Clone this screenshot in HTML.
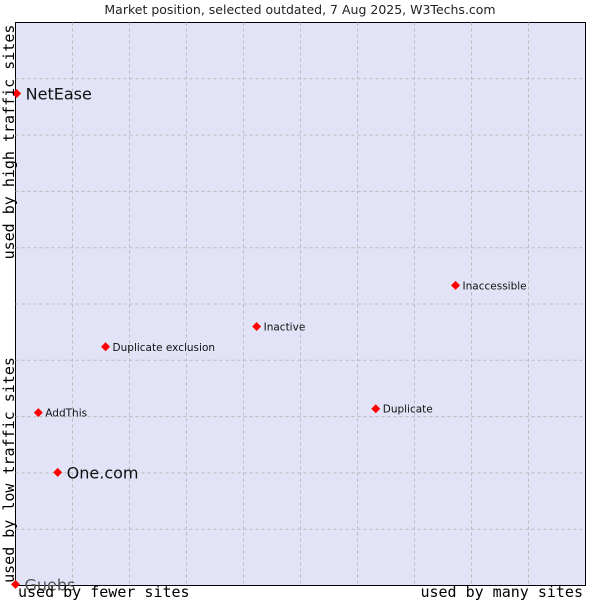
<!DOCTYPE html>
<html><head><meta charset="utf-8"><style>
body{margin:0;background:#fff;width:600px;height:600px;overflow:hidden}
svg{display:block}
</style></head><body>
<svg width="600" height="600" xmlns="http://www.w3.org/2000/svg">
<text x="300" y="14" text-anchor="middle" font-family="DejaVu Sans, sans-serif" font-size="12.5" fill="#222">Market position, selected outdated, 7 Aug 2025, W3Techs.com</text>
<rect x="15.5" y="22.5" width="570" height="563" fill="#e3e3f7" stroke="#000"/>
<g id="grid"></g>
<g id="pts"></g>
<text transform="translate(14,470) rotate(-90)" text-anchor="middle" font-family="DejaVu Sans Mono, monospace" font-size="15" fill="#000">used by low traffic sites</text>
<text transform="translate(14,142) rotate(-90)" text-anchor="middle" font-family="DejaVu Sans Mono, monospace" font-size="15" fill="#000">used by high traffic sites</text>
<text x="18" y="597" font-family="DejaVu Sans Mono, monospace" font-size="15" fill="#000">used by fewer sites</text>
<text x="583" y="597" text-anchor="end" font-family="DejaVu Sans Mono, monospace" font-size="15" fill="#000">used by many sites</text>
</svg>
<script>
const names=["NetEase","Guebs","One.com","AddThis","Duplicate exclusion","Inactive","Duplicate","Inaccessible"];
const xs=[0.2,0,7.4,4.0,15.8,42.3,63.2,77.2];
const ys=[87.4,0.2,20.1,30.7,42.4,46.0,31.4,53.3];
const big=[true,true,true,false,false,false,false,false];
const NS="http://www.w3.org/2000/svg";
const L=15.5,R=585.5,T=22.5,B=585.5;
const sx=v=>L+(R-L)*v/100, sy=v=>B-(B-T)*v/100;
const g=document.getElementById('grid');
for(let i=1;i<10;i++){
 const x=L+(R-L)*i/10,y=T+(B-T)*i/10;
 const a=document.createElementNS(NS,'line');
 
 
 a.setAttribute('x1',x);a.setAttribute('x2',x);a.setAttribute('y1',T);a.setAttribute('y2',B);
 a.setAttribute('stroke','#bbb');a.setAttribute('stroke-dasharray','3,3');g.appendChild(a);
 const b=document.createElementNS(NS,'line');
 
 
 b.setAttribute('x1',L);b.setAttribute('x2',R);b.setAttribute('y1',y);b.setAttribute('y2',y);
 b.setAttribute('stroke','#bbb');b.setAttribute('stroke-dasharray','3,3');g.appendChild(b);
}
const p=document.getElementById('pts');
names.forEach((n,i)=>{
 const x=sx(xs[i]),y=sy(ys[i]);
 const d=document.createElementNS(NS,'path');
 
 
 d.setAttribute('d',`M${x-4.5},${y}L${x},${y-4.5}L${x+4.5},${y}L${x},${y+4.5}Z`);
 d.setAttribute('fill','#f00');p.appendChild(d);
 const t=document.createElementNS(NS,'text');
 
 
 t.setAttribute('x',x+(big[i]?9:7));t.setAttribute('y',y+(big[i]?6:4));
 t.setAttribute('font-family','DejaVu Sans, sans-serif');
 t.setAttribute('font-size',big[i]?'16':'10.5');
 t.setAttribute('fill',i==1?'#555':'#111');
 t.textContent=n;p.appendChild(t);
});
</script>
</body></html>
